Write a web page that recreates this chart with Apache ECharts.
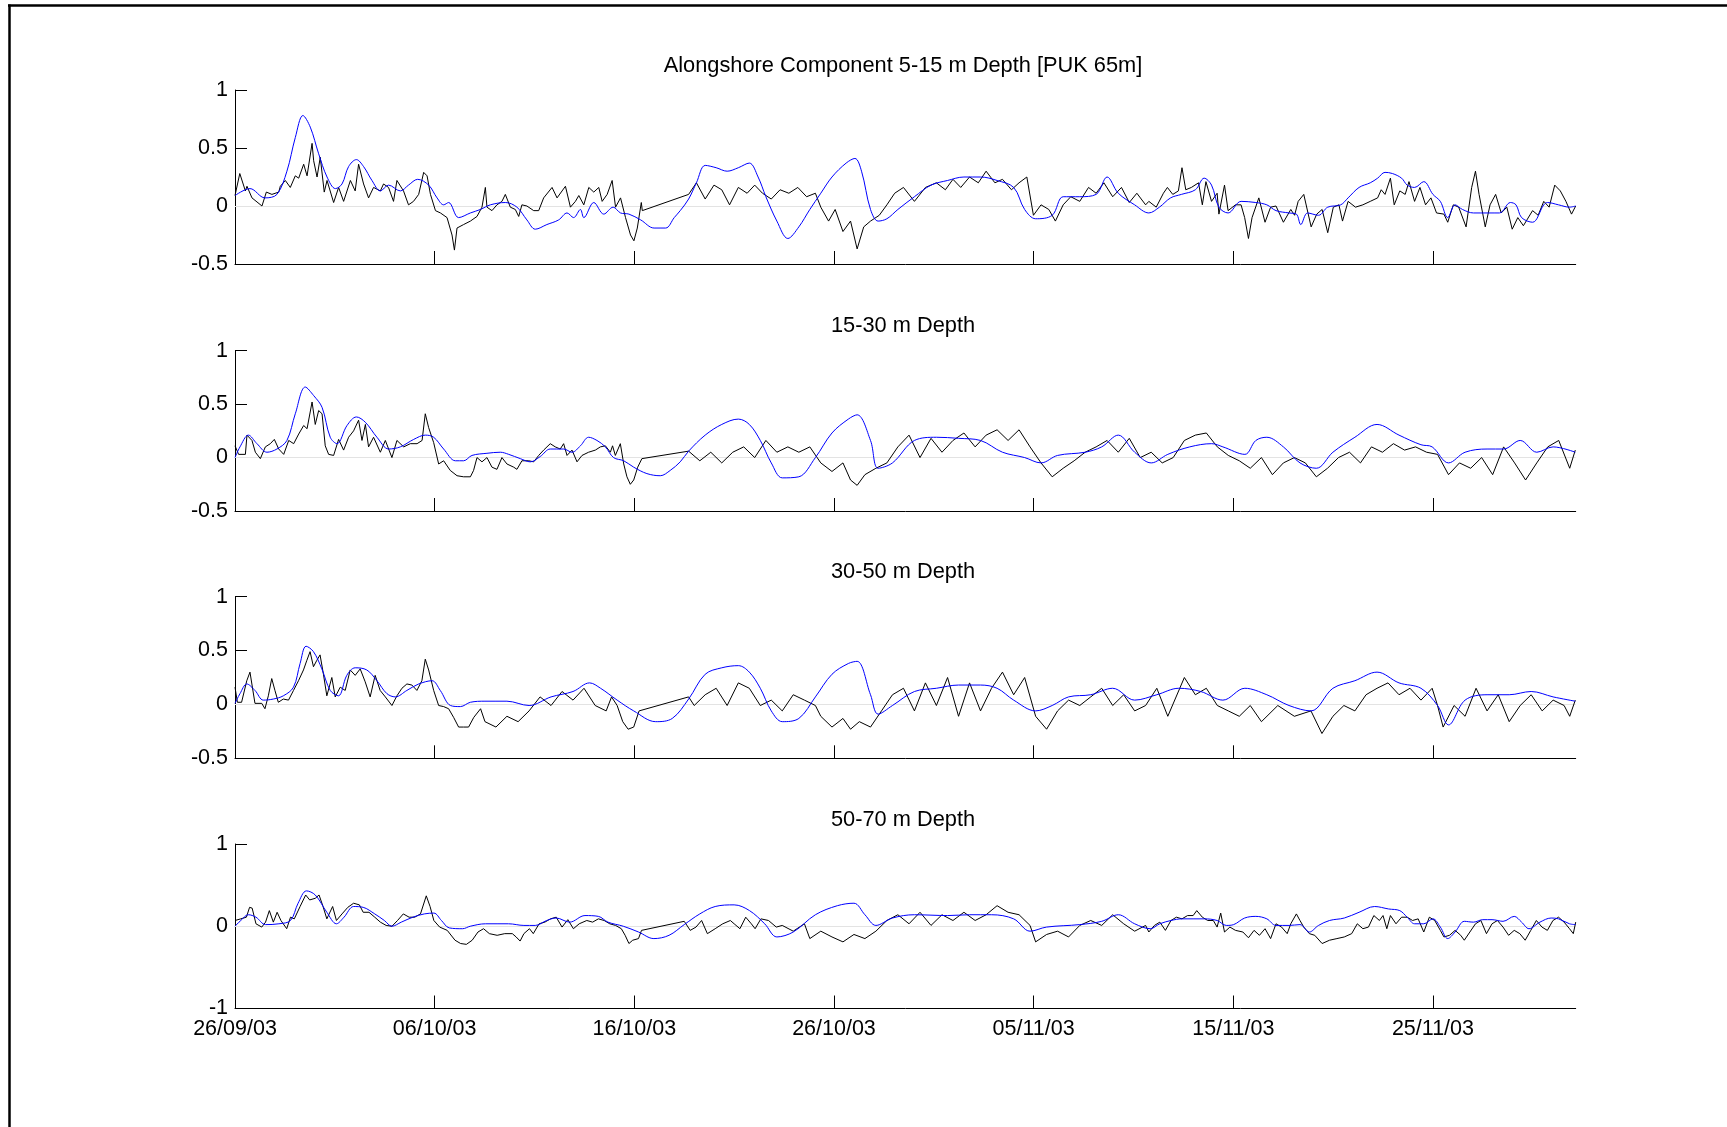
<!DOCTYPE html>
<html><head><meta charset="utf-8">
<script src="https://cdn.jsdelivr.net/npm/echarts@6/dist/echarts.min.js"></script>
<style>html,body{margin:0;padding:0;background:#fff;}#c{width:1727px;height:1127px;}</style>
</head><body><div id="c"></div>
<script>
// x values are days since 26/09/03 00:00
const xTickDays = [0, 10, 20, 30, 40, 50, 60];
const xTickLabels = ['26/09/03','06/10/03','16/10/03','26/10/03','05/11/03','15/11/03','25/11/03'];
const panelTitles = ['Alongshore Component 5-15 m Depth [PUK 65m]','15-30 m Depth','30-50 m Depth','50-70 m Depth'];
const yMins = [-0.5, -0.5, -0.5, -1];
const yMaxs = [1, 1, 1, 1];
const yIntervals = [0.5, 0.5, 0.5, 1];

const p1Black = [[0,0.09],[0.24,0.28],[0.52,0.13],[0.6,0.17],[0.85,0.07],[1.35,0.0],[1.57,0.12],[1.85,0.10],[2.19,0.12],[2.27,0.17],[2.52,0.22],[2.77,0.16],[3.02,0.26],[3.19,0.24],[3.44,0.36],[3.61,0.26],[3.86,0.54],[3.94,0.39],[4.11,0.25],[4.27,0.42],[4.47,0.12],[4.61,0.22],[4.94,0.03],[5.19,0.16],[5.44,0.04],[5.78,0.22],[6.02,0.13],[6.19,0.36],[6.44,0.19],[6.69,0.07],[6.94,0.16],[7.28,0.13],[7.44,0.19],[7.69,0.16],[7.94,0.04],[8.11,0.22],[8.44,0.13],[8.69,0.01],[8.94,0.04],[9.2,0.10],[9.45,0.29],[9.62,0.26],[9.79,0.10],[10.04,-0.04],[10.29,-0.06],[10.62,-0.10],[10.87,-0.25],[10.99,-0.38],[11.12,-0.19],[11.45,-0.16],[11.79,-0.13],[12.12,-0.09],[12.37,-0.01],[12.54,0.16],[12.62,-0.01],[12.87,-0.04],[13.12,0.01],[13.37,0.04],[13.54,0.10],[13.79,-0.01],[14.04,-0.03],[14.21,-0.09],[14.37,0.01],[14.62,0.0],[14.96,-0.04],[15.21,-0.04],[15.46,0.07],[15.88,0.16],[16.13,0.07],[16.55,0.17],[16.8,-0.01],[17.05,0.04],[17.22,0.09],[17.47,0.01],[17.72,0.16],[17.97,0.12],[18.22,0.16],[18.39,0.04],[18.64,0.10],[18.89,0.22],[19.06,-0.01],[19.31,0.07],[19.56,-0.10],[19.81,-0.25],[19.98,-0.30],[20.15,-0.19],[20.35,0.03],[20.4,-0.04],[22.72,0.10],[23.11,0.20],[23.55,0.06],[23.99,0.18],[24.38,0.14],[24.77,0.01],[25.21,0.16],[25.65,0.11],[26.03,0.18],[26.42,0.11],[26.86,0.06],[27.30,0.14],[27.74,0.11],[28.19,0.16],[28.63,0.08],[29.07,0.11],[29.34,-0.01],[29.73,-0.13],[30.06,-0.03],[30.45,-0.22],[30.83,-0.13],[31.16,-0.37],[31.49,-0.18],[31.83,-0.13],[32.27,-0.08],[32.65,0.01],[33.04,0.11],[33.48,0.16],[34.03,0.04],[34.58,0.16],[35.13,0.20],[35.58,0.14],[35.96,0.23],[36.35,0.16],[36.79,0.25],[37.23,0.20],[37.62,0.30],[38.06,0.20],[38.44,0.23],[38.89,0.14],[39.27,0.20],[39.66,0.25],[39.99,-0.08],[40.37,0.01],[40.76,-0.03],[41.09,-0.13],[41.48,0.01],[41.86,0.08],[42.31,0.04],[42.75,0.16],[43.13,0.11],[43.52,0.20],[43.96,0.08],[44.40,0.16],[44.79,0.03],[45.17,0.11],[45.61,0.01],[45.77,0.04],[46.14,-0.01],[46.5,0.11],[46.7,0.16],[46.97,0.10],[47.25,0.13],[47.43,0.33],[47.62,0.14],[47.9,0.16],[48.26,0.20],[48.45,0.01],[48.63,0.21],[48.91,0.04],[49.19,0.11],[49.28,-0.07],[49.56,0.18],[49.74,-0.04],[50.11,0.01],[50.39,0.01],[50.57,-0.10],[50.76,-0.28],[50.94,-0.10],[51.28,0.07],[51.59,-0.14],[51.87,-0.01],[52.14,0.0],[52.51,-0.14],[52.88,-0.03],[53.07,-0.08],[53.25,0.04],[53.53,0.10],[53.9,-0.18],[54.18,-0.07],[54.45,-0.03],[54.73,-0.23],[55.01,-0.01],[55.29,0.01],[55.47,-0.13],[55.75,0.04],[56.12,-0.01],[56.49,0.01],[56.86,0.04],[57.23,0.07],[57.41,0.14],[57.6,0.10],[57.87,0.24],[58.06,0.01],[58.34,0.13],[58.61,0.10],[58.8,0.21],[59.08,0.04],[59.35,0.16],[59.63,0.01],[59.9,0.07],[60.18,-0.06],[60.55,-0.07],[60.74,-0.14],[61.02,0.01],[61.29,-0.01],[61.66,-0.18],[61.94,0.16],[62.13,0.30],[62.31,0.10],[62.62,-0.18],[62.86,0.01],[63.14,0.10],[63.42,-0.06],[63.7,-0.01],[63.97,-0.20],[64.25,-0.10],[64.53,-0.17],[64.99,-0.04],[65.27,-0.08],[65.55,0.04],[65.82,-0.01],[66.1,0.18],[66.38,0.13],[66.66,0.04],[66.94,-0.07],[67.15,0.0]];

const p1Blue = [[0,0.09],[0.75,0.15],[1.5,0.07],[2.1,0.10],[2.6,0.30],[3.02,0.59],[3.4,0.78],[3.77,0.68],[4.19,0.45],[4.61,0.25],[5.03,0.15],[5.36,0.19],[5.69,0.34],[6.08,0.40],[6.44,0.34],[6.86,0.22],[7.28,0.13],[7.69,0.18],[8.28,0.13],[8.69,0.18],[9.15,0.23],[9.7,0.18],[10.12,0.07],[10.45,0.01],[10.7,0.03],[11.2,-0.10],[11.79,-0.06],[12.29,-0.03],[12.79,0.01],[13.54,0.03],[14.12,-0.01],[14.62,-0.12],[15.04,-0.20],[15.62,-0.16],[16.21,-0.12],[16.63,-0.06],[16.96,-0.10],[17.3,-0.03],[17.47,-0.10],[17.97,0.03],[18.47,-0.07],[18.94,-0.01],[19.31,-0.06],[19.73,-0.07],[20.32,-0.12],[20.99,-0.19],[21.57,-0.19],[22.0,-0.10],[22.3,-0.04],[22.72,0.06],[23.11,0.20],[23.55,0.35],[24.10,0.33],[24.65,0.30],[25.21,0.33],[25.76,0.37],[26.20,0.25],[26.59,0.08],[27.14,-0.13],[27.69,-0.28],[28.24,-0.18],[28.79,-0.03],[29.34,0.11],[29.90,0.25],[30.61,0.37],[31.05,0.41],[31.38,0.30],[31.83,-0.03],[32.21,-0.13],[32.65,-0.11],[33.20,-0.03],[34.03,0.08],[34.86,0.18],[35.69,0.22],[36.51,0.25],[37.34,0.25],[38.17,0.22],[39.00,0.16],[39.55,-0.03],[40.10,-0.11],[40.93,-0.08],[41.48,0.08],[42.31,0.08],[43.13,0.10],[43.68,0.25],[44.24,0.11],[45.06,0.01],[45.77,-0.06],[46.3,-0.01],[46.86,0.07],[47.4,0.10],[48.1,0.14],[48.54,0.24],[48.91,0.18],[49.28,-0.01],[49.74,-0.06],[50.39,0.04],[51.13,0.03],[51.68,0.01],[52.14,-0.04],[52.79,-0.06],[53.16,-0.07],[53.38,-0.16],[53.72,-0.06],[54.27,-0.08],[54.73,-0.01],[55.38,0.01],[55.75,0.07],[56.3,0.16],[56.86,0.20],[57.23,0.24],[57.6,0.29],[57.97,0.28],[58.43,0.24],[58.71,0.18],[59.08,0.16],[59.54,0.21],[60.0,0.10],[60.37,0.04],[60.74,-0.10],[61.11,0.01],[61.48,-0.03],[62.03,-0.06],[62.77,-0.06],[63.33,-0.06],[63.88,0.03],[64.16,0.01],[64.44,-0.10],[64.99,-0.14],[65.55,0.01],[65.73,0.03],[66.29,0.01],[66.84,-0.01],[67.15,0.0]];

const p2Black = [[0,0.11],[0.18,0.03],[0.52,0.03],[0.6,0.21],[0.85,0.16],[1.02,0.05],[1.27,-0.01],[1.52,0.10],[1.77,0.13],[1.97,0.17],[2.19,0.08],[2.44,0.03],[2.69,0.16],[2.94,0.13],[3.19,0.22],[3.44,0.30],[3.61,0.27],[3.86,0.52],[4.02,0.31],[4.19,0.44],[4.36,0.41],[4.52,0.11],[4.69,0.03],[4.94,0.02],[5.19,0.17],[5.44,0.07],[5.69,0.19],[5.94,0.25],[6.19,0.35],[6.36,0.16],[6.53,0.31],[6.69,0.10],[6.94,0.19],[7.28,0.05],[7.53,0.16],[7.86,0.0],[8.11,0.16],[8.45,0.10],[8.78,0.13],[9.12,0.13],[9.37,0.16],[9.53,0.41],[9.7,0.28],[9.95,0.14],[10.2,-0.06],[10.45,-0.03],[10.78,-0.12],[11.12,-0.17],[11.45,-0.18],[11.79,-0.18],[11.95,-0.12],[12.12,0.0],[12.37,-0.04],[12.62,0.0],[12.87,-0.09],[13.12,-0.11],[13.37,0.0],[13.62,-0.06],[13.96,-0.09],[14.12,-0.11],[14.37,-0.03],[14.71,-0.03],[14.96,-0.04],[15.21,0.02],[15.46,0.07],[15.79,0.13],[16.04,0.10],[16.29,0.08],[16.46,0.13],[16.63,0.02],[16.88,0.07],[17.13,-0.04],[17.38,0.02],[17.71,0.05],[18.05,0.07],[18.3,0.10],[18.55,0.11],[18.8,0.05],[18.91,0.11],[19.05,0.02],[19.3,0.13],[19.47,-0.06],[19.63,-0.18],[19.8,-0.25],[19.97,-0.21],[20.17,-0.09],[20.38,-0.01],[22.72,0.06],[23.28,-0.03],[23.83,0.05],[24.38,-0.05],[24.93,0.05],[25.48,0.10],[26.03,0.0],[26.59,0.16],[27.14,0.05],[27.69,0.10],[28.24,0.05],[28.79,0.10],[29.34,-0.05],[29.90,-0.13],[30.45,-0.05],[30.83,-0.21],[31.16,-0.26],[31.55,-0.16],[32.10,-0.10],[32.65,-0.05],[33.20,0.10],[33.76,0.21],[34.31,0.0],[34.86,0.18],[35.41,0.05],[35.96,0.16],[36.51,0.23],[37.07,0.10],[37.62,0.21],[38.17,0.26],[38.72,0.16],[39.27,0.26],[39.82,0.10],[40.37,-0.05],[40.93,-0.18],[41.48,-0.10],[42.03,-0.03],[42.58,0.05],[43.13,0.10],[43.68,0.16],[44.24,0.05],[44.79,0.18],[45.34,0.0],[45.89,0.05],[46.44,-0.05],[46.99,0.0],[47.55,0.16],[48.10,0.21],[48.65,0.23],[49.20,0.10],[49.75,0.02],[50.30,-0.03],[50.85,-0.10],[51.41,0.0],[51.96,-0.16],[52.51,-0.05],[53.06,0.0],[53.61,-0.05],[54.16,-0.18],[54.72,-0.10],[55.27,0.0],[55.82,0.05],[56.37,-0.05],[56.92,0.10],[57.47,0.05],[58.02,0.13],[58.58,0.07],[59.13,0.10],[59.68,0.05],[60.23,0.03],[60.78,-0.16],[61.33,-0.05],[61.89,-0.10],[62.44,0.0],[62.99,-0.16],[63.54,0.10],[64.09,-0.05],[64.64,-0.21],[65.20,-0.05],[65.75,0.10],[66.30,0.16],[66.85,-0.10],[67.13,0.07]];

const p2Blue = [[0,0.0],[0.25,0.10],[0.67,0.21],[1.1,0.13],[1.6,0.05],[2.1,0.08],[2.6,0.16],[3.02,0.41],[3.52,0.66],[3.94,0.58],[4.36,0.47],[4.77,0.19],[5.11,0.13],[5.61,0.30],[6.08,0.38],[6.53,0.33],[7.11,0.19],[7.7,0.08],[8.28,0.10],[8.95,0.17],[9.53,0.21],[9.95,0.19],[10.45,0.08],[11.04,-0.03],[11.45,-0.03],[11.87,0.02],[12.62,0.04],[13.29,0.05],[13.71,0.03],[14.29,-0.01],[14.79,-0.04],[15.29,0.01],[15.79,0.08],[16.46,0.08],[16.88,0.05],[17.3,0.11],[17.71,0.19],[18.13,0.16],[18.55,0.10],[18.96,0.0],[19.47,-0.03],[19.97,-0.09],[20.63,-0.15],[21.3,-0.17],[21.8,-0.12],[22.3,-0.04],[22.72,0.06],[23.55,0.21],[24.38,0.31],[25.21,0.36],[25.76,0.31],[26.31,0.16],[26.86,-0.05],[27.41,-0.19],[28.24,-0.18],[29.07,0.0],[29.90,0.23],[30.72,0.36],[31.16,0.40],[31.83,0.16],[32.21,-0.10],[32.93,-0.05],[34.03,0.16],[35.13,0.19],[36.24,0.18],[37.34,0.16],[38.44,0.05],[39.55,0.0],[40.37,-0.05],[41.20,0.02],[42.58,0.05],[43.41,0.10],[44.24,0.21],[45.06,0.05],[45.89,-0.05],[46.72,0.03],[47.82,0.10],[48.92,0.13],[49.48,0.10],[50.58,0.03],[51.13,0.16],[51.68,0.19],[52.51,0.10],[53.34,-0.05],[54.16,-0.10],[54.99,0.05],[56.09,0.19],[57.20,0.31],[58.30,0.21],[59.40,0.12],[59.96,0.10],[60.78,-0.05],[61.61,0.05],[62.71,0.08],[63.54,0.08],[64.37,0.16],[65.20,0.05],[66.02,0.10],[67.13,0.05]];

const p3Black = [[0,0.16],[0.12,0.02],[0.33,0.02],[0.59,0.22],[0.75,0.30],[1.0,0.01],[1.34,0.01],[1.5,-0.04],[1.67,0.08],[1.84,0.24],[2.0,0.13],[2.17,0.02],[2.42,0.05],[2.68,0.04],[2.93,0.13],[3.18,0.22],[3.43,0.32],[3.6,0.41],[3.76,0.49],[3.93,0.35],[4.1,0.41],[4.26,0.46],[4.43,0.28],[4.6,0.08],[4.85,0.25],[5.02,0.07],[5.27,0.16],[5.52,0.13],[5.77,0.32],[6.02,0.27],[6.27,0.33],[6.52,0.21],[6.77,0.07],[7.02,0.27],[7.27,0.13],[7.53,0.07],[7.86,-0.01],[8.11,0.08],[8.36,0.15],[8.61,0.19],[8.86,0.18],[9.11,0.13],[9.36,0.22],[9.53,0.42],[9.7,0.32],[9.95,0.13],[10.2,-0.01],[10.45,-0.02],[10.7,-0.04],[10.95,-0.12],[11.2,-0.21],[11.45,-0.21],[11.7,-0.21],[11.96,-0.12],[12.3,-0.04],[12.52,-0.16],[13.07,-0.21],[13.62,-0.11],[14.18,-0.16],[14.73,-0.06],[15.28,0.07],[15.83,-0.01],[16.38,0.12],[16.93,0.04],[17.48,0.15],[18.04,-0.01],[18.59,-0.06],[18.86,0.07],[19.14,-0.01],[19.42,-0.16],[19.69,-0.23],[19.97,-0.21],[20.24,-0.06],[22.72,0.07],[23.0,-0.01],[23.55,0.09],[24.10,0.15],[24.65,-0.01],[25.21,0.20],[25.76,0.15],[26.31,-0.01],[26.86,0.04],[27.41,-0.06],[27.96,0.09],[28.52,0.04],[29.07,-0.01],[29.34,-0.11],[29.90,-0.21],[30.45,-0.13],[30.83,-0.23],[31.27,-0.16],[31.83,-0.21],[32.38,-0.06],[32.93,0.09],[33.48,0.15],[34.03,-0.06],[34.58,0.20],[35.13,-0.01],[35.69,0.25],[36.24,-0.11],[36.79,0.20],[37.34,-0.06],[37.89,0.15],[38.44,0.30],[39.00,0.09],[39.55,0.25],[40.10,-0.11],[40.65,-0.23],[41.20,-0.06],[41.75,0.04],[42.31,-0.01],[42.86,0.07],[43.41,0.15],[43.96,-0.01],[44.51,0.09],[45.06,-0.06],[45.61,-0.01],[46.17,0.15],[46.72,-0.11],[47.55,0.25],[48.10,0.09],[48.65,0.15],[49.20,-0.01],[49.75,-0.06],[50.30,-0.11],[50.85,-0.01],[51.41,-0.16],[52.23,-0.01],[53.06,-0.11],[53.89,-0.06],[54.44,-0.27],[54.99,-0.11],[55.54,-0.01],[56.09,-0.06],[56.65,0.09],[57.20,0.15],[57.75,0.20],[58.30,0.09],[58.85,0.15],[59.40,0.04],[59.96,0.15],[60.23,-0.01],[60.51,-0.21],[61.06,-0.01],[61.61,-0.11],[62.16,0.15],[62.71,-0.06],[63.27,0.09],[63.82,-0.16],[64.37,-0.01],[64.92,0.09],[65.47,-0.06],[66.02,0.04],[66.57,-0.01],[66.85,-0.11],[67.13,0.04]];

const p3Blue = [[0,0.01],[0.25,0.10],[0.59,0.19],[1.0,0.13],[1.42,0.04],[1.92,0.05],[2.42,0.08],[2.93,0.16],[3.26,0.38],[3.56,0.54],[3.93,0.49],[4.35,0.33],[4.77,0.13],[5.18,0.08],[5.6,0.27],[6.02,0.34],[6.6,0.32],[7.11,0.22],[7.61,0.10],[8.03,0.07],[8.61,0.13],[9.2,0.19],[9.87,0.22],[10.28,0.13],[10.79,-0.01],[11.29,-0.02],[11.79,0.02],[12.52,0.03],[13.62,0.03],[14.73,-0.01],[15.83,0.07],[16.93,0.12],[17.76,0.20],[18.31,0.15],[19.14,0.04],[19.97,-0.06],[21.07,-0.16],[21.90,-0.13],[22.72,0.05],[23.55,0.28],[24.38,0.34],[25.21,0.36],[25.76,0.30],[26.31,0.15],[26.86,-0.06],[27.41,-0.16],[28.24,-0.13],[29.07,0.07],[29.90,0.28],[30.72,0.38],[31.16,0.40],[31.83,0.09],[32.21,-0.09],[32.93,-0.01],[34.03,0.12],[35.13,0.15],[36.24,0.18],[37.34,0.18],[38.17,0.15],[39.00,0.04],[40.10,-0.06],[40.93,-0.01],[41.75,0.07],[42.86,0.09],[43.96,0.15],[45.06,0.04],[46.17,0.09],[47.27,0.15],[48.37,0.12],[49.48,0.04],[50.58,0.15],[51.68,0.09],[52.79,-0.01],[53.89,-0.06],[54.99,0.15],[56.09,0.22],[57.20,0.30],[58.30,0.20],[59.40,0.15],[60.23,-0.01],[60.78,-0.19],[61.61,0.04],[62.71,0.09],[63.82,0.09],[64.92,0.12],[66.02,0.07],[67.13,0.03]];

const p4Black = [[0,0.07],[0.29,0.09],[0.57,0.11],[0.73,0.23],[0.86,0.22],[1.05,0.03],[1.34,-0.01],[1.53,0.05],[1.72,0.19],[1.92,0.05],[2.11,0.17],[2.3,0.07],[2.59,-0.03],[2.78,0.11],[2.97,0.09],[3.26,0.24],[3.54,0.38],[3.74,0.32],[4.02,0.34],[4.21,0.38],[4.41,0.24],[4.6,0.09],[4.89,0.24],[5.08,0.07],[5.36,0.15],[5.65,0.23],[5.94,0.28],[6.23,0.26],[6.42,0.17],[6.71,0.17],[7.0,0.11],[7.28,0.05],[7.57,0.01],[7.86,0.0],[8.14,0.07],[8.43,0.15],[8.72,0.11],[9.0,0.11],[9.29,0.15],[9.58,0.37],[9.77,0.24],[9.96,0.07],[10.25,-0.01],[10.63,-0.05],[11.02,-0.17],[11.3,-0.21],[11.59,-0.22],[11.88,-0.17],[12.17,-0.07],[12.45,-0.03],[12.74,-0.09],[13.13,-0.11],[13.51,-0.09],[13.89,-0.09],[14.08,-0.13],[14.28,-0.18],[14.47,-0.09],[14.75,-0.03],[14.94,-0.09],[15.23,0.03],[15.52,0.05],[15.8,0.09],[16.09,0.11],[16.38,-0.01],[16.67,0.08],[16.95,-0.03],[17.24,0.03],[17.62,0.07],[17.91,0.05],[18.2,0.09],[18.49,0.07],[18.77,0.03],[19.06,0.01],[19.35,-0.03],[19.54,-0.11],[19.73,-0.21],[19.92,-0.17],[20.21,-0.15],[20.36,-0.05],[22.5,0.06],[22.8,-0.05],[23.09,-0.01],[23.37,0.07],[23.66,-0.09],[24.05,-0.03],[24.43,0.03],[24.81,0.07],[25.0,0.03],[25.29,-0.03],[25.58,0.11],[25.86,0.03],[26.05,-0.03],[26.34,0.09],[26.72,0.07],[27.11,-0.01],[27.41,0.01],[27.96,-0.06],[28.52,0.03],[28.79,-0.15],[29.34,-0.06],[29.90,-0.13],[30.45,-0.19],[31.00,-0.10],[31.55,-0.15],[32.10,-0.06],[32.65,0.07],[33.20,0.14],[33.76,0.03],[34.31,0.17],[34.86,0.01],[35.41,0.14],[35.96,0.07],[36.51,0.17],[37.07,0.07],[37.62,0.14],[38.17,0.25],[38.72,0.17],[39.27,0.14],[39.82,0.01],[40.10,-0.19],[40.65,-0.10],[41.20,-0.06],[41.75,-0.13],[42.31,0.01],[42.86,0.07],[43.41,0.01],[43.96,0.14],[44.51,0.03],[45.06,-0.06],[45.61,0.01],[45.77,-0.07],[46.05,0.01],[46.32,0.05],[46.6,-0.05],[46.88,0.07],[47.15,0.11],[47.43,0.09],[47.71,0.13],[47.99,0.13],[48.17,0.19],[48.45,0.11],[48.72,0.07],[49.0,0.07],[49.19,-0.01],[49.37,0.16],[49.56,-0.07],[49.83,-0.01],[50.11,-0.05],[50.48,-0.07],[50.76,-0.14],[51.04,-0.05],[51.31,-0.11],[51.59,-0.03],[51.87,-0.15],[52.14,0.03],[52.42,-0.01],[52.7,-0.09],[52.88,0.03],[53.16,0.15],[53.34,0.07],[53.53,-0.01],[53.81,-0.09],[54.08,-0.11],[54.45,-0.21],[54.82,-0.17],[55.19,-0.15],[55.56,-0.13],[55.93,-0.09],[56.21,0.03],[56.49,-0.03],[56.77,-0.01],[57.04,0.13],[57.32,0.07],[57.5,0.13],[57.69,-0.03],[57.87,0.13],[58.15,0.03],[58.43,0.11],[58.71,0.11],[58.98,0.07],[59.26,0.09],[59.54,-0.07],[59.82,0.11],[60.09,0.07],[60.37,-0.05],[60.55,-0.13],[60.83,-0.11],[61.11,-0.05],[61.39,-0.11],[61.57,-0.17],[61.85,-0.07],[62.13,0.03],[62.4,0.07],[62.68,-0.09],[62.96,0.03],[63.23,0.07],[63.51,-0.01],[63.79,-0.11],[64.07,-0.05],[64.35,-0.09],[64.62,-0.17],[64.9,-0.05],[65.18,0.07],[65.46,-0.01],[65.73,-0.05],[66.01,0.07],[66.29,0.11],[66.57,0.05],[66.84,-0.03],[67.03,-0.09],[67.15,0.05]];

const p4Blue = [[0,0.0],[0.29,0.07],[0.67,0.14],[1.05,0.11],[1.53,0.02],[2.2,0.03],[2.78,0.07],[3.16,0.28],[3.58,0.43],[4.02,0.38],[4.6,0.17],[5.08,0.03],[5.46,0.11],[5.94,0.24],[6.42,0.23],[7.0,0.15],[7.48,0.07],[7.86,0.0],[8.33,0.05],[8.91,0.11],[9.48,0.15],[9.96,0.16],[10.34,0.07],[10.73,-0.02],[11.4,-0.03],[11.78,0.0],[12.55,0.03],[13.7,0.03],[14.47,0.01],[15.04,0.01],[15.61,0.07],[16.09,0.10],[16.76,0.05],[17.53,0.13],[18.2,0.12],[18.68,0.05],[19.45,0.0],[20.21,-0.07],[20.98,-0.15],[21.74,-0.11],[22.5,0.02],[23.28,0.15],[24.05,0.24],[25.0,0.26],[25.77,0.19],[26.53,0.03],[27.14,-0.13],[27.96,-0.07],[29.07,0.14],[30.17,0.25],[31.00,0.28],[31.55,0.14],[32.10,0.01],[32.93,0.10],[34.03,0.14],[35.69,0.13],[36.79,0.14],[37.89,0.14],[39.00,0.09],[39.82,-0.06],[40.65,-0.01],[42.31,0.02],[43.41,0.06],[44.24,0.14],[45.06,0.03],[45.84,-0.03],[46.32,0.03],[46.88,0.07],[47.43,0.09],[48.54,0.09],[49.19,0.07],[49.65,0.01],[50.02,0.02],[50.57,0.10],[51.13,0.12],[51.68,0.09],[52.14,0.01],[52.79,0.01],[53.34,0.02],[53.81,-0.07],[54.27,0.01],[54.82,0.07],[55.56,0.10],[56.3,0.17],[57.08,0.24],[57.78,0.21],[58.34,0.19],[58.71,0.11],[59.08,0.03],[59.54,0.03],[60.0,0.09],[60.37,-0.01],[60.74,-0.15],[61.11,-0.07],[61.57,0.06],[62.03,0.05],[62.5,0.08],[62.96,0.08],[63.51,0.06],[64.07,0.12],[64.44,0.05],[64.81,-0.03],[65.36,0.05],[65.92,0.10],[66.29,0.09],[66.84,0.03],[67.15,0.02]];

const blackSeries = [p1Black, p2Black, p3Black, p4Black];
const blueSeries = [p1Blue, p2Blue, p3Blue, p4Blue];

const FONT = '"Liberation Sans", Arial, Helvetica, sans-serif';
const xMax = 67.15;
const gridBoxes = [
  {top: 90, height: 174},
  {top: 350.7, height: 160.3},
  {top: 596.7, height: 161.6},
  {top: 844, height: 164.5}
];

const grid = [], xAxis = [], yAxis = [], series = [], graphic = [];
gridBoxes.forEach((g, i) => {
  grid.push({left: 235, right: 151.3, top: g.top, height: g.height, containLabel: false});
  xAxis.push({
    type: 'value', gridIndex: i, min: 0, max: xMax,
    axisLine: {show: true, onZero: false, lineStyle: {color: '#000', width: 1}},
    axisTick: {show: true, inside: true, length: 13, customValues: xTickDays, lineStyle: {color: '#000', width: 1}},
    axisLabel: {show: i === 3, customValues: xTickDays, margin: 9.5, fontSize: 21.5, fontFamily: FONT, color: '#000',
      formatter: v => xTickLabels[xTickDays.indexOf(Math.round(v))] || ''},
    splitLine: {show: false}
  });
  yAxis.push({
    type: 'value', gridIndex: i, min: yMins[i], max: yMaxs[i], interval: yIntervals[i],
    axisLine: {show: true, onZero: false, lineStyle: {color: '#000', width: 1}},
    axisTick: {show: true, inside: true, length: 12, lineStyle: {color: '#000', width: 1}},
    axisLabel: {show: true, margin: 7, fontSize: 21.5, fontFamily: FONT, color: '#000'},
    splitLine: {show: false}
  });
  series.push({
    type: 'line', xAxisIndex: i, yAxisIndex: i, data: blackSeries[i],
    symbol: 'none', showSymbol: false, lineStyle: {color: '#000', width: 1}, itemStyle: {color: '#000'},
    silent: true, animation: false, clip: true,
    markLine: {silent: true, z: 1, symbol: ['none', 'none'], label: {show: false},
      lineStyle: {color: '#e3e3e3', width: 1, type: 'solid'}, data: [{yAxis: 0}], animation: false}
  });
  series.push({
    type: 'line', xAxisIndex: i, yAxisIndex: i, data: blueSeries[i], smooth: 0.35,
    symbol: 'none', showSymbol: false, lineStyle: {color: '#0000ff', width: 1}, itemStyle: {color: '#0000ff'},
    silent: true, animation: false, clip: true
  });
  graphic.push({
    type: 'text', x: 903, y: g.top - 24.5,
    style: {text: panelTitles[i], font: '21.8px ' + FONT, fill: '#000',
      textAlign: 'center', textVerticalAlign: 'middle', align: 'center', verticalAlign: 'middle'}
  });
});
graphic.push({type: 'line', shape: {x1: 8, y1: 5.5, x2: 1727, y2: 5.5}, style: {stroke: '#000', lineWidth: 2.5}});
graphic.push({type: 'line', shape: {x1: 9.5, y1: 4.5, x2: 9.5, y2: 1127}, style: {stroke: '#000', lineWidth: 2.5}});

const chart = echarts.init(document.getElementById('c'), null, {renderer: 'canvas'});
chart.setOption({
  animation: false,
  backgroundColor: '#fff',
  grid, xAxis, yAxis, series, graphic
});
</script></body></html>
